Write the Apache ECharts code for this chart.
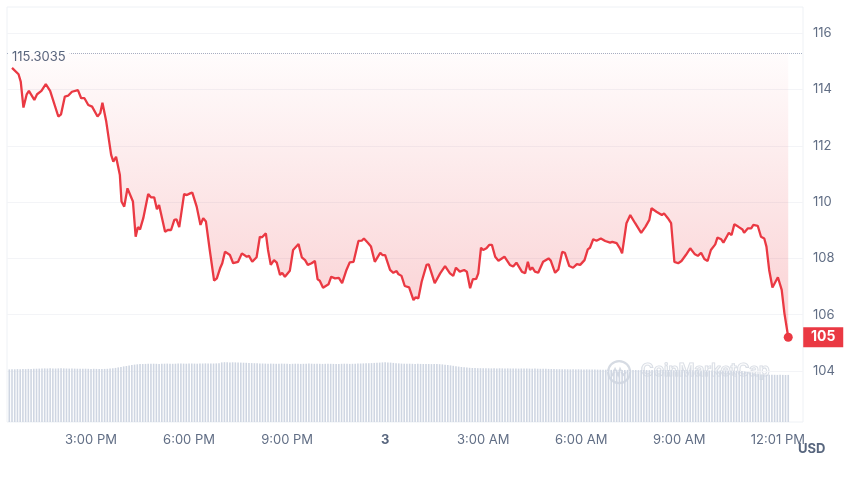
<!DOCTYPE html>
<html>
<head>
<meta charset="utf-8">
<script src="https://cdn.jsdelivr.net/npm/echarts@6/dist/echarts.min.js"></script>
<style>
html,body{margin:0;padding:0;background:#fff;}
#chart{width:850px;height:477px;}
</style>
</head>
<body>
<div id="chart"></div>
<script>
// ---- data (minutes after 12:00 PM of the first day) ----
const priceMinutes = [35,47,51,56,62,66,76,81,89,97,105,120,125,132,138,145,156,162,168,175,182,192,197,201,208,217,221,226,233,236,241,247,257,262,
266,270,276,285,290,296,301,305,316,321,327,333,337,342,351,356,362,366,374,381,386,391,398,406,411,417,421,426,435,441,450,457,466,470,476,484,490,494,501,
505,510,516,521,527,531,536,545,551,561,567,573,578,585,591,596,600,606,616,621,628,635,641,649,655,662,671,677,681,689,694,701,711,715,720,729,735,741,
744,750,756,764,772,776,781,787,796,800,811,821,830,839,845,850,857,865,870,876,881,887,891,896,900,906,911,916,922,928,939,949,955,961,971,977,
982,986,990,995,1001,1010,1020,1024,1032,1038,1045,1050,1058,1065,1072,1078,1086,1092,1096,1102,1108,1111,1116,1124,1133,1137,1145,1151,1155,1163,1170,1179,1190,1198,1205,1209,1218,
1221,1228,1232,1239,1245,1251,1258,1264,1272,1280,1288,1294,1300,1306,1312,1318,1326,1330,1337,1341,1347,1351,1356,1361,1368,1376,1379,1386,1392,1396,1404,1410,1416,1420,1425,1431,1441,1448,1453,1460];

const priceValues = [114.77,114.54,114.28,113.36,113.83,113.95,113.63,113.83,113.95,114.19,113.95,113.04,113.12,113.75,113.78,113.92,113.98,113.69,113.69,113.45,113.39,113.04,113.16,113.53,112.86,111.68,111.44,111.61,110.96,110.02,109.84,110.49,110.02,108.77,
109.11,109.03,109.43,110.29,110.17,110.17,109.75,109.90,108.95,109.01,109.01,109.37,109.39,109.11,110.29,110.25,110.31,110.34,109.84,109.19,109.43,109.31,108.30,107.21,107.29,107.65,107.83,108.24,108.12,107.83,107.88,108.18,108.06,108.09,107.88,108.04,108.77,108.75,108.89,
108.30,107.77,107.94,107.85,107.41,107.49,107.35,107.56,108.30,108.51,108.04,107.94,107.77,107.83,107.91,107.26,107.21,106.96,107.08,107.35,107.29,107.31,107.12,107.59,107.86,107.88,108.62,108.63,108.71,108.54,108.42,107.88,108.20,108.12,108.12,107.59,107.49,107.55,
107.45,107.38,107.02,106.97,106.52,106.62,106.58,107.17,107.77,107.79,107.12,107.47,107.73,107.47,107.38,107.67,107.53,107.59,107.53,106.94,107.26,107.27,107.47,108.38,108.30,108.36,108.48,108.48,108.06,107.92,108.06,107.77,107.71,107.85,107.53,107.47,
107.88,107.59,107.68,107.53,107.49,107.88,108.00,107.92,107.49,107.61,108.23,108.20,107.73,107.67,107.80,107.77,107.94,108.32,108.38,108.68,108.63,108.56,108.71,108.62,108.56,108.59,108.54,108.36,108.18,109.25,109.54,109.25,108.91,109.13,109.37,109.78,109.66,
109.62,109.54,109.60,109.43,109.25,107.88,107.83,107.91,108.12,108.36,108.16,108.09,108.20,107.98,107.91,108.30,108.50,108.74,108.68,108.56,108.77,108.91,108.83,109.21,109.13,109.03,108.91,109.07,109.07,109.19,109.16,108.77,108.71,108.42,107.59,106.97,107.33,106.88,106.05,105.20];

const maxPrice = 115.3035;

// volume bars every 5 minutes starting at minute 30 (arbitrary units)
const volumeStartMinute = 30;
const volumeStepMinutes = 5;
const volumeValues = [
52.6,52.8,52.7,52.9,52.8,53.0,52.9,53.1,53.0,53.2,53.3,53.4,
53.5,53.6,53.5,53.7,53.6,53.5,53.6,53.7,53.6,53.5,53.4,53.5,53.4,53.3,53.3,53.2,53.3,53.2,53.1,53.2,53.1,53.0,
53.0,53.1,53.2,53.4,53.7,54.1,54.6,55.1,55.6,
56.0,56.5,57.0,57.4,57.7,57.9,
58.0,58.1,58.2,58.2,58.3,58.2,58.1,58.2,58.3,58.4,58.3,58.2,58.3,58.4,58.5,58.4,58.3,58.4,58.5,58.4,58.3,58.4,58.5,58.6,58.5,58.4,58.5,58.6,58.8,
59.6,59.8,59.7,59.6,59.7,59.6,59.5,59.4,59.3,59.2,59.0,58.9,58.8,58.7,58.6,
58.5,58.4,58.3,58.4,58.3,58.2,58.3,58.4,58.3,58.2,58.1,58.2,58.3,58.2,58.1,58.2,58.3,58.4,58.3,58.2,58.3,58.2,58.1,58.2,58.3,58.2,58.1,58.0,58.1,58.2,58.3,58.2,58.1,58.2,58.3,58.4,58.5,58.6,58.7,58.8,58.9,59.1,59.3,59.4,
59.6,59.7,59.6,59.4,59.1,
58.8,58.6,58.4,58.3,58.2,58.3,58.2,58.1,58.2,58.1,58.0,58.1,58.0,57.9,58.0,57.9,57.8,
57.6,57.3,57.0,56.6,56.2,55.8,55.4,55.0,54.7,54.4,54.2,54.0,
53.9,53.8,53.8,53.7,53.8,53.7,53.6,53.7,53.6,53.7,53.6,53.5,53.6,53.5,53.6,53.5,53.4,53.5,53.4,53.5,53.4,53.3,53.4,53.3,53.2,53.3,53.2,53.1,53.0,
52.9,52.8,52.8,52.7,52.8,52.7,52.6,52.7,52.6,52.7,52.6,52.5,52.6,52.5,52.4,52.5,52.4,
52.3,52.2,52.3,52.2,52.1,52.2,52.1,52.2,52.1,52.0,52.1,52.0,52.1,52.0,51.9,52.0,52.1,52.0,51.9,52.0,51.9,52.0,52.1,52.0,51.9,52.0,51.9,51.8,51.9,51.8,51.9,51.8,51.7,51.8,51.7,51.8,51.7,51.6,51.7,
51.6,51.5,51.6,51.5,51.4,51.5,51.4,51.5,51.4,51.3,51.4,51.3,51.2,51.0,50.6,50.0,49.4,48.8,48.3,47.9,47.6,
47.4,47.3,47.2,47.3,47.2,47.1,47.2,47.1,47.0,47.1];

// x tick labels
const xTickMinutes = [180, 360, 540, 720, 900, 1080, 1260, 1441];
const xTickLabels = ['3:00 PM', '6:00 PM', '9:00 PM', '3', '3:00 AM', '6:00 AM', '9:00 AM', '12:01 PM'];
const yTickValues = [104, 106, 108, 110, 112, 114, 116];

// ---- build ----
const pricePairs = priceMinutes.map((m, i) => [m, priceValues[i]]);
const volumePairs = volumeValues.map((v, i) => [volumeStartMinute + i * volumeStepMinutes, v]);
const lastT = priceMinutes[priceMinutes.length - 1];
const lastV = priceValues[priceValues.length - 1];
const minV = Math.min.apply(null, priceValues);

const RED = '#ea3943';
const LABEL = '#616e85';
const FONT = 'Inter, "Noto Sans", sans-serif';

const chart = echarts.init(document.getElementById('chart'), null, {renderer: 'canvas'});
const option = {
  animation: false,
  backgroundColor: '#ffffff',
  textStyle: {fontFamily: FONT},
  grid: [
    {left: 7, right: 47, top: 7, bottom: 55, show: true, borderColor: '#eef1f5', borderWidth: 1},
    {left: 7, right: 47, top: 342, bottom: 55}
  ],
  xAxis: [
    {
      type: 'value', gridIndex: 0, min: 25.8, max: 1487.1,
      axisLine: {show: false}, axisTick: {show: false, customValues: xTickMinutes},
      splitLine: {show: false},
      axisLabel: {
        customValues: xTickMinutes, margin: 12, fontSize: 13, color: LABEL, fontFamily: FONT,
        formatter: function (v) {
          const idx = xTickMinutes.indexOf(Math.round(v));
          if (idx < 0) return '';
          const t = xTickLabels[idx];
          return /^\d+$/.test(t) ? '{d|' + t + '}' : t;
        },
        rich: {d: {fontWeight: 'bold', fontSize: 13, color: '#58667e', fontFamily: FONT}}
      }
    },
    {type: 'value', gridIndex: 1, min: 25.8, max: 1487.1, show: false}
  ],
  yAxis: [
    {
      type: 'value', gridIndex: 0, position: 'right', min: 102.19, max: 116.93,
      axisLine: {show: false}, axisTick: {show: false, customValues: yTickValues},
      splitLine: {show: true, lineStyle: {color: '#f3f4f7', width: 1}},
      axisLabel: {customValues: yTickValues, margin: 10, fontSize: 13, color: LABEL, fontFamily: FONT}
    },
    {type: 'value', gridIndex: 1, min: 0, max: 80, show: false}
  ],
  series: [
    {
      name: 'volume', type: 'bar', xAxisIndex: 1, yAxisIndex: 1,
      data: volumePairs, barWidth: 1.6, itemStyle: {color: '#cfd6e2'}, z: 1, silent: true
    },
    {
      name: 'price', type: 'line', xAxisIndex: 0, yAxisIndex: 0,
      data: pricePairs, showSymbol: false, symbol: 'none', z: 5,
      lineStyle: {color: RED, width: 2.3},
      areaStyle: {origin: 'end', color: 'rgba(0,0,0,0)'},
      markLine: {
        silent: true, symbol: 'none', z: 4,
        lineStyle: {type: 'dotted', color: '#a6b0c3', width: 1},
        label: {
          show: true, position: 'insideStartTop', formatter: String(maxPrice),
          color: '#58667e', fontSize: 13, fontFamily: FONT,
          backgroundColor: '#ffffff', padding: [1, 4, 1, 4], offset: [-4, 17]
        },
        data: [{yAxis: maxPrice}]
      },
      markPoint: {
        silent: true, z: 6,
        data: [
          {coord: [lastT, lastV], value: lastV, symbol: 'circle', symbolSize: 9,
           itemStyle: {color: RED}, label: {show: false}},
          {coord: [lastT, lastV], value: lastV, symbol: 'rect', symbolSize: [40, 20], symbolOffset: [35, 0],
           itemStyle: {color: RED},
           label: {show: true, position: 'inside', color: '#fff', fontWeight: 'bold', fontSize: 14, fontFamily: FONT,
                   formatter: p => String(Math.round(p.value))}}
        ]
      }
    }
  ],
  graphic: [
    {
      type: 'group', left: 607, top: 360, silent: true, z: 0,
      children: [
        {type: 'circle', shape: {cx: 12, cy: 12, r: 11}, style: {fill: 'rgba(255,255,255,0.3)', stroke: '#d6dbe3', lineWidth: 2.2}},
        {type: 'polyline', shape: {points: [[5, 16], [8, 9], [11, 15], [13, 9], [16, 15], [19, 12]]},
         style: {stroke: '#d6dbe3', lineWidth: 2, fill: null}},
        {type: 'text', x: 34, y: 2, style: {text: 'CoinMarketCap', fill: 'rgba(255,255,255,0.35)', stroke: '#d6dbe3', lineWidth: 1.2,
          font: '600 17px Inter, "Noto Sans", sans-serif'}}
      ]
    },
    {type: 'text', left: 798, top: 443, style: {text: 'USD', fill: '#58667e', font: 'bold 13px Inter, "Noto Sans", sans-serif'}}
  ]
};
chart.setOption(option);

// area between the max-price line and the price line: gradient in pixel space,
// transparent above the max-price level
const yTop = chart.convertToPixel({yAxisIndex: 0}, maxPrice);
const yBot = chart.convertToPixel({yAxisIndex: 0}, minV);
chart.setOption({
  series: [{}, {
    areaStyle: {
      origin: 'end',
      color: new echarts.graphic.LinearGradient(0, yTop, 0, yBot, [
        {offset: 0, color: 'rgba(234,57,67,0)'},
        {offset: 0.001, color: 'rgba(234,57,67,0.02)'},
        {offset: 1, color: 'rgba(234,57,67,0.34)'}
      ], true)
    }
  }]
});
</script>
</body>
</html>
